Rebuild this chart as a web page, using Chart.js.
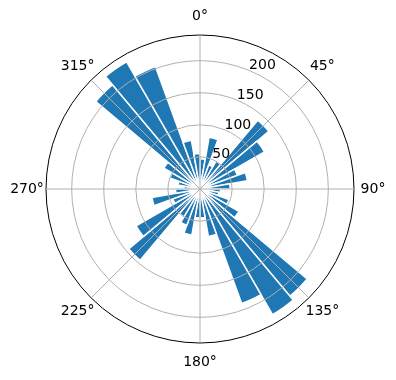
<!DOCTYPE html>
<html>
<head>
<meta charset="utf-8">
<script src="https://cdn.jsdelivr.net/npm/chart.js@4.4.1/dist/chart.umd.min.js"></script>
<style>
  html, body { margin: 0; padding: 0; background: #fff; }
  #wrap { width: 396px; height: 380px; }
</style>
</head>
<body>
<div id="wrap"><canvas id="rose"></canvas></div>
<script>
// ── DATA ──────────────────────────────────────────────────────
// 36 direction bins of 10°, centred at 5°, 15°, ... 355°
const binLabels = [];
for (let a = 5; a < 360; a += 10) binLabels.push(a + '°');
const counts = [
  47, 82, 40, 50, 140, 116, 62, 75, 47,     // 5 .. 85
  32, 30, 48, 70, 218, 226, 190, 75, 45,    // 95 .. 175
  45, 73, 60, 50, 145, 115, 45, 76, 38,     // 185 .. 265
  25, 35, 50, 65, 212, 229, 203, 77, 55     // 275 .. 355
];
const angleLabels = ['0°', '45°', '90°', '135°', '180°', '225°', '270°', '315°'];
const radialTicks = [0, 50, 100, 150, 200, 240];
const radialLabelTicks = [50, 100, 150, 200];

const FONT = 'DejaVu Sans';

// theta labels centred just outside the rim, r labels at 22.5° (matplotlib style)
const polarLabels = {
  id: 'polarLabels',
  afterDraw(chart) {
    const r = chart.scales.r;
    const ctx = chart.ctx;
    const rim = r.getDistanceFromCenterForValue(r.max);
    ctx.save();
    ctx.font = '14px "' + FONT + '"';
    ctx.fillStyle = '#000';

    ctx.textAlign = 'center';
    ctx.textBaseline = 'middle';
    angleLabels.forEach((txt, i) => {
      const p = r.getPointPosition(i, rim + 19);
      ctx.fillText(txt, p.x, p.y);
    });

    const ang = 22.5 * Math.PI / 180;
    ctx.textAlign = 'left';
    ctx.textBaseline = 'alphabetic';
    radialLabelTicks.forEach(v => {
      const d = r.getDistanceFromCenterForValue(v);
      ctx.fillText(String(v), r.xCenter + d * Math.sin(ang), r.yCenter - d * Math.cos(ang) - 1);
    });
    ctx.restore();
  }
};

new Chart(document.getElementById('rose'), {
  type: 'polarArea',
  data: {
    labels: binLabels,
    datasets: [{
      data: counts,
      backgroundColor: '#1f77b4',
      borderColor: '#ffffff',
      borderWidth: 1.5
    }]
  },
  options: {
    responsive: true,
    maintainAspectRatio: false,
    animation: false,
    layout: { padding: { left: 46, right: 42, top: 35, bottom: 37 } },
    plugins: { legend: { display: false }, tooltip: { enabled: false } },
    scales: {
      r: {
        min: 0,
        max: 240,
        startAngle: 0,
        labels: angleLabels,
        afterBuildTicks: s => { s.ticks = radialTicks.map(v => ({ value: v })); },
        ticks: { display: false, showLabelBackdrop: false },
        grid: {
          circular: true,
          z: 1,
          color: ctx => (ctx.tick && ctx.tick.value === 240) ? '#000000' : '#b0b0b0',
          lineWidth: 1
        },
        angleLines: { display: true, color: '#b0b0b0', lineWidth: 1 },
        pointLabels: { display: false }
      }
    }
  },
  plugins: [polarLabels]
});
</script>
</body>
</html>
